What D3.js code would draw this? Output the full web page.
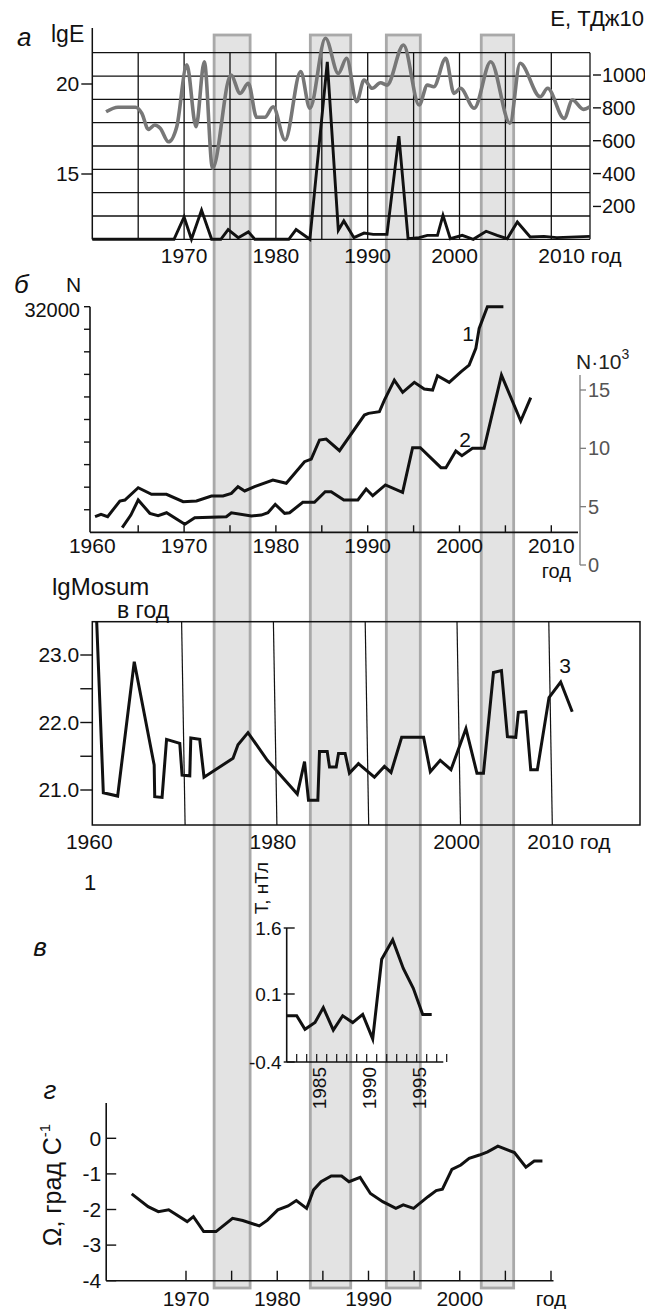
<!DOCTYPE html>
<html>
<head>
<meta charset="utf-8">
<script src="https://cdn.jsdelivr.net/npm/d3@7"></script>
<style>
  body { margin: 0; background: #fff; }
  svg { display: block; }
  text { font-family: "Liberation Sans", Arial, sans-serif; }
</style>
</head>
<body>
<svg id="chart" width="645" height="1309"></svg>
<script>
// ---- data ----
// highlighted intervals, years
const bands = [[1973.27, 1977.19], [1983.75, 1988.15], [1992.03, 1995.73], [2002.37, 2005.9]];

// а: lgE (grey, left axis) and E, ТДж·10 (black, right axis)
const energyLog = [[1961.5,18.46],[1962.8,18.71],[1964.7,18.71],[1965.4,18.37],[1966.1,17.48],[1966.8,17.72],[1967.4,17.54],[1968.3,16.79],[1969.2,17.63],[1970.3,21.06],[1971.3,17.63],[1972.2,21.24],[1973.1,15.32],[1975.1,20.5],[1976.1,19.48],[1977.0,20.04],[1977.9,18.15],[1978.8,18.15],[1979.7,18.74],[1981.0,16.89],[1982.7,20.69],[1983.7,18.65],[1985.4,22.54],[1986.8,20.59],[1987.7,21.43],[1988.8,19.02],[1989.6,20.22],[1990.5,19.76],[1991.4,20.07],[1992.1,19.94],[1993.9,22.17],[1995.6,18.83],[1996.5,19.94],[1997.2,19.85],[1998.5,21.43],[1999.4,19.48],[2000.1,19.76],[2001.6,18.65],[2003.4,21.24],[2005.5,17.82],[2006.6,21.15],[2008.8,19.29],[2009.6,19.76],[2011.4,18.09],[2012.3,19.11],[2013.5,18.59],[2014.2,18.74]];
const energyE = [[1960,0],[1968.9,0],[1970.0,136],[1970.8,0],[1971.9,177],[1973.0,0],[1974.0,0],[1974.8,59],[1975.9,10],[1977.0,45],[1977.7,0],[1981.4,0],[1982.2,59],[1983.7,0],[1985.6,1080],[1986.8,55],[1987.4,112],[1988.5,10],[1989.6,38],[1990.6,30],[1992.1,30],[1993.4,628],[1994.4,4],[1995.6,10],[1996.5,24],[1997.6,24],[1998.2,146],[1999.0,4],[2000.3,24],[2001.5,0],[2002.9,49],[2004.1,24],[2005.2,4],[2006.3,105],[2007.7,14],[2009.2,18],[2010.6,10],[2014.2,18]];
const lgETicks = [15, 20];
const eTicks = [200, 400, 600, 800, 1000];
const yearLabelsA = [1970, 1980, 1990, 2000, 2010];

// б: N (curve 1, left axis) and N·10³ (curve 2, right axis)
const quakeCount = [[1960.3,2210],[1960.95,2550],[1961.67,2210],[1963.0,4440],[1963.55,4580],[1965.0,6320],[1966.45,5390],[1968.08,5390],[1969.9,4340],[1971.35,4440],[1972.98,5150],[1974.24,5150],[1975.15,5530],[1975.87,6470],[1976.6,5860],[1977.68,6470],[1979.67,7420],[1981.13,6950],[1983.12,10010],[1983.85,10390],[1984.75,13090],[1985.48,13230],[1986.93,11570],[1989.64,16630],[1990.08,16870],[1991.27,17100],[1991.82,18760],[1992.9,21590],[1993.81,19850],[1995.08,21270],[1996.16,20320],[1997.07,20170],[1997.6,22200],[1998.88,21270],[2000.15,22770],[2001.05,23720],[2001.78,26090],[2002.14,28920],[2003.04,32000],[2004.78,32000]];
const quakeCountK = [[1963.26,3.2],[1964.2,4.28],[1965.0,5.57],[1966.27,4.43],[1967.17,4.22],[1968.09,4.48],[1970.08,3.49],[1971.16,4.06],[1974.6,4.14],[1975.15,4.48],[1977.33,4.2],[1978.41,4.28],[1979.13,4.48],[1979.93,5.2],[1980.95,4.43],[1981.49,4.48],[1982.93,5.37],[1984.2,5.37],[1985.37,6.28],[1986.02,6.28],[1987.4,5.57],[1988.93,5.57],[1989.83,6.51],[1990.55,5.94],[1991.93,6.86],[1993.8,6.23],[1994.89,10.05],[1995.73,10.05],[1997.98,8.34],[1998.52,8.34],[1999.6,9.77],[2000.26,9.37],[2001.41,10.0],[2002.68,10.0],[2004.57,16.28],[2006.67,12.34],[2007.76,14.34]];
const nTicks = d3.range(3200, 32001, 3200);
const nkTicks = [0, 5, 10, 15];
const yearTicksB = d3.range(1965, 2011, 5);
const yearLabelsB = [1960, 1970, 1980, 1990, 2000, 2010];

// lgMosum per year (curve 3)
const momentSum = [[1960.48,23.49],[1961.2,20.96],[1962.76,20.91],[1964.57,22.9],[1966.74,21.37],[1966.8,20.9],[1967.6,20.89],[1968.09,21.75],[1969.53,21.69],[1969.78,21.22],[1970.62,21.21],[1970.73,21.77],[1971.7,21.75],[1972.17,21.19],[1975.33,21.47],[1975.87,21.67],[1976.96,21.85],[1979.07,21.44],[1982.33,20.94],[1983.12,21.42],[1983.55,20.85],[1984.57,20.85],[1984.75,21.57],[1985.59,21.57],[1985.84,21.34],[1986.57,21.34],[1986.82,21.54],[1987.54,21.54],[1988.01,21.25],[1988.99,21.39],[1990.73,21.19],[1991.82,21.35],[1992.54,21.26],[1993.7,21.78],[1996.09,21.78],[1996.82,21.27],[1997.9,21.44],[1999.07,21.3],[2000.7,21.91],[2001.9,21.25],[2002.61,21.25],[2003.7,22.74],[2004.57,22.77],[2005.22,21.79],[2006.13,21.78],[2006.41,22.15],[2007.22,22.16],[2007.76,21.3],[2008.48,21.3],[2009.75,22.37],[2011.02,22.6],[2012.28,22.16]];
const mTicks = [21, 21.5, 22, 22.5, 23];
const mGridYears = [1970, 1980, 1990, 2000, 2010];
const yearLabelsM = [1960, 1980, 2000, 2010];

// в: T, нТл
const fieldT = [[1982.0,-0.06],[1983.0,-0.06],[1983.83,-0.16],[1984.83,-0.11],[1985.66,0.0],[1986.66,-0.165],[1987.6,-0.06],[1988.6,-0.11],[1989.6,-0.05],[1990.6,-0.23],[1991.5,0.89],[1992.6,1.33],[1993.66,0.68],[1994.66,0.23],[1995.6,-0.05],[1996.5,-0.05]];
const tTicks = [-0.4, 0.1, 1.6];
const tYearTicks = d3.range(1983, 1999);
const tYearLabels = [1985, 1990, 1995];

// г: Ω, град С⁻¹
const rotationOmega = [[1964.05,-1.56],[1965.85,-1.92],[1966.97,-2.06],[1968.1,-2.01],[1970.13,-2.34],[1970.81,-2.2],[1971.94,-2.62],[1973.29,-2.62],[1975.1,-2.25],[1976.22,-2.31],[1978.03,-2.46],[1978.93,-2.3],[1980.06,-2.01],[1981.19,-1.9],[1982.09,-1.75],[1983.22,-1.97],[1983.98,-1.45],[1984.8,-1.22],[1985.92,-1.06],[1987.05,-1.06],[1987.86,-1.22],[1989.08,-1.1],[1990.21,-1.55],[1991.56,-1.78],[1993.0,-1.97],[1993.81,-1.87],[1994.94,-1.97],[1996.52,-1.64],[1997.42,-1.47],[1998.1,-1.43],[1999.14,-0.87],[2000.12,-0.75],[2001.03,-0.56],[2002.15,-0.47],[2003.06,-0.38],[2004.18,-0.22],[2005.99,-0.4],[2007.25,-0.81],[2008.16,-0.64],[2009.06,-0.64]];
const omegaTicks = [0, -1, -2, -3, -4];
const gYearTicks = d3.range(1970, 2011, 5);
const gYearLabels = [1970, 1980, 1990, 2000, 2010];

// ---- helpers ----
const svg = d3.select("#chart");
const INK = "#111";

function txt(g, x, y, s, o = {}) {
  const t = g.append("text")
    .attr("x", x).attr("y", y)
    .attr("font-size", o.size || 20)
    .attr("text-anchor", o.anchor || "start")
    .attr("dy", o.dy === undefined ? "0.35em" : o.dy)
    .attr("fill", o.fill || INK)
    .text(s);
  if (o.italic) t.attr("font-style", "italic");
  if (o.rotate) t.attr("transform", `rotate(${o.rotate},${x},${y})`);
  return t;
}
function seg(g, x1, y1, x2, y2, o = {}) {
  return g.append("line")
    .attr("x1", x1).attr("y1", y1).attr("x2", x2).attr("y2", y2)
    .attr("stroke", o.stroke || INK)
    .attr("stroke-width", o.width || 1.4);
}
function path(g, data, gen, o = {}) {
  return g.append("path").datum(data)
    .attr("d", gen)
    .attr("fill", "none")
    .attr("stroke", o.stroke || INK)
    .attr("stroke-width", o.width || 3)
    .attr("stroke-linejoin", "miter")
    .attr("stroke-miterlimit", 6);
}

// shared year scale for the upper panels
const xA = d3.scaleLinear([1960, 2010], [92.3, 551.3]);
const YR = 21; // year label size

// ---- highlighted intervals (behind everything) ----
svg.append("g").selectAll("rect").data(bands).join("rect")
  .attr("x", d => xA(d[0]))
  .attr("width", d => xA(d[1]) - xA(d[0]))
  .attr("y", 35).attr("height", 1288 - 35)
  .attr("fill", "#e3e3e3")
  .attr("stroke", "#a9a9a9")
  .attr("stroke-width", 2.8);

// ---- panel а ----
{
  const g = svg.append("g");
  const top = 52.7, bot = 239.3, left = xA(1960), right = 590;
  const yLgE = d3.scaleLinear([15, 20], [174, 84]);
  const yE = d3.scaleLinear([0, 1000], [bot, 75]);

  // grid
  d3.range(9).forEach(i => {
    const y = top + i * (bot - top) / 8;
    seg(g, left, y, right, y, { width: 1.3 });
  });
  d3.range(1965, 2011, 5).forEach(yr => seg(g, xA(yr), top, xA(yr), bot, { width: 1.3 }));
  seg(g, right, top, right, bot, { width: 1.3 });
  seg(g, left, 28, left, bot, { width: 1.5 });

  // left axis
  lgETicks.forEach(v => {
    seg(g, left - 11, yLgE(v), left, yLgE(v), { width: 1.4 });
    txt(g, left - 13, yLgE(v), v, { anchor: "end", size: 21 });
  });
  // right axis
  eTicks.forEach(v => {
    seg(g, right + 3, yE(v), right + 11, yE(v), { width: 1.4 });
    txt(g, right + 12, yE(v), v);
  });

  yearLabelsA.forEach(yr => {
    if (yr === 2010) txt(g, xA(yr) - 13, 256, "2010 год", { size: YR });
    else txt(g, xA(yr) - (yr === 2000 ? 5 : 0), 256, yr, { anchor: "middle", size: YR });
  });

  txt(g, 17, 37, "а", { size: 26, italic: true });
  txt(g, 51, 34, "lgE", { size: 23 });
  txt(g, 644, 18, "Е, ТДж10", { anchor: "end", size: 22 });

  path(g, energyLog, d3.line().x(d => xA(d[0])).y(d => yLgE(d[1])).curve(d3.curveMonotoneX),
       { stroke: "#777", width: 3.6 });
  path(g, energyE, d3.line().x(d => xA(d[0])).y(d => yE(d[1])), { width: 2.9 });
}

// ---- panel б ----
{
  const g = svg.append("g");
  const bot = 532.3, left = 90, right = 578, rAxis = 580;
  const yN = d3.scaleLinear([0, 32000], [bot, 306.7]);
  const yNk = d3.scaleLinear([0, 15], [565, 390]);

  seg(g, left, yN(32000), left, bot, { width: 1.6 });
  nTicks.forEach(v => seg(g, left - 6, yN(v), left, yN(v), { width: 1.4 }));
  txt(g, 80, yN(32000) + 3, "32000", { anchor: "end" });

  seg(g, left, bot, right, bot, { width: 1.8 });
  yearTicksB.forEach(yr => seg(g, xA(yr), bot, xA(yr), bot - 7, { width: 1.4 }));
  yearLabelsB.forEach(yr => txt(g, xA(yr), 546, yr, { anchor: "middle", size: YR }));
  txt(g, xA(2010) + 5, 571, "год", { anchor: "middle", size: 20 });

  // right axis
  const grey = "#7d7d7d";
  seg(g, rAxis, 375, rAxis, yNk(0), { stroke: grey, width: 1.3 });
  nkTicks.forEach(v => {
    seg(g, rAxis, yNk(v), rAxis + 6, yNk(v), { stroke: grey, width: 1.3 });
    txt(g, rAxis + 8, yNk(v), v, { fill: "#555" });
  });
  const nl = txt(g, 576, 362, "N·10", { fill: "#222", size: 21 });
  nl.append("tspan").attr("dy", -10).attr("font-size", 14).text("3");

  txt(g, 14, 284, "б", { size: 26, italic: true });
  txt(g, 66, 285, "N", { size: 21 });

  path(g, quakeCount, d3.line().x(d => xA(d[0])).y(d => yN(d[1])));
  path(g, quakeCountK, d3.line().x(d => xA(d[0])).y(d => yNk(d[1])));
  txt(g, 468, 334, "1", { anchor: "middle", size: 21 });
  txt(g, 465, 440, "2", { anchor: "middle", size: 21 });
}

// ---- lgMosum panel ----
{
  const g = svg.append("g");
  const top = 621.7, bot = 825, left = xA(1960), right = 640;
  const yM = d3.scaleLinear([21, 23], [790, 655]);

  g.append("rect").attr("x", left).attr("y", top)
    .attr("width", right - left).attr("height", bot - top)
    .attr("fill", "none").attr("stroke", INK).attr("stroke-width", 1.5);
  mGridYears.forEach(yr => seg(g, xA(yr) + 1, bot, xA(yr) - 2.5, top, { width: 1.2 }));

  mTicks.forEach(v => seg(g, left - 12, yM(v), left, yM(v), { width: 1.4 }));
  mTicks.filter(v => Number.isInteger(v))
    .forEach(v => txt(g, left - 13, yM(v), v.toFixed(1), { anchor: "end", size: 21 }));

  yearLabelsM.forEach(yr => {
    if (yr === 2010) txt(g, xA(yr) - 24, 842, "2010 год", { size: YR });
    else txt(g, xA(yr) - 3, 842, yr, { anchor: "middle", size: YR });
  });

  txt(g, 52, 587, "lgMosum", { size: 24 });
  txt(g, 117, 610, "в год", { size: 23 });

  path(g, momentSum, d3.line().x(d => xA(d[0])).y(d => yM(d[1])));
  txt(g, 565, 666, "3", { anchor: "middle", size: 21 });
}

// ---- panel в ----
{
  const g = svg.append("g");
  const xT = d3.scaleLinear([1982, 1997], [286.7, 436.7]);
  const yT = d3.scaleLinear([-0.4, 0.1, 1.6], [1062, 994, 928]);
  const left = xT(1982), bot = yT(-0.4), right = 443.3;

  seg(g, left, yT(1.6), left, bot, { width: 1.6 });
  seg(g, left, bot, right, bot, { width: 1.6 });
  tTicks.forEach(v => {
    seg(g, left - 3, yT(v), left + 8, yT(v), { width: 1.4 });
    txt(g, left - 5, yT(v), v.toFixed(1), { anchor: "end", size: 19 });
  });
  tYearTicks.forEach(yr => seg(g, xT(yr), bot, xT(yr), bot - 8, { width: 1.2 }));
  tYearLabels.forEach(yr => txt(g, xT(yr) + 3, bot + 5, yr, { anchor: "end", rotate: -90, size: 19 }));

  txt(g, 261, 888, "Т, нТл", { anchor: "middle", rotate: -90, size: 19 });
  txt(g, 90, 882, "1", { anchor: "middle", size: 22 });
  txt(g, 40, 947, "в", { size: 26, italic: true, anchor: "middle" });

  path(g, fieldT, d3.line().x(d => xT(d[0])).y(d => yT(d[1])));
}

// ---- panel г ----
{
  const g = svg.append("g");
  const xG = d3.scaleLinear([1970, 2010], [186, 551]);
  const yG = d3.scaleLinear([-4, 0], [1280.7, 1138.3]);
  const left = 106.2, bot = yG(-4), right = 553.5;

  seg(g, left, 1103, left, bot, { width: 1.6 });
  seg(g, left, bot, right, bot, { width: 1.6 });
  omegaTicks.forEach(v => {
    seg(g, left, yG(v), left + 10, yG(v), { width: 1.4 });
    txt(g, left - 5, yG(v), v === 0 ? "0" : v, { anchor: "end", size: 21 });
  });
  gYearTicks.forEach(yr => seg(g, xG(yr), bot, xG(yr), bot - 10, { width: 1.4 }));
  gYearLabels.forEach(yr => txt(g, xG(yr), 1299, yr === 2010 ? "год" : yr, { anchor: "middle", size: YR }));

  const ax = txt(g, 52, 1185, "Ω, град С", { anchor: "middle", rotate: -90, size: 25 });
  ax.append("tspan").attr("dy", -11).attr("font-size", 15).text("-1");
  txt(g, 50, 1090, "г", { size: 26, italic: true, anchor: "middle" });

  path(g, rotationOmega, d3.line().x(d => xG(d[0])).y(d => yG(d[1])));
}
</script>
</body>
</html>
